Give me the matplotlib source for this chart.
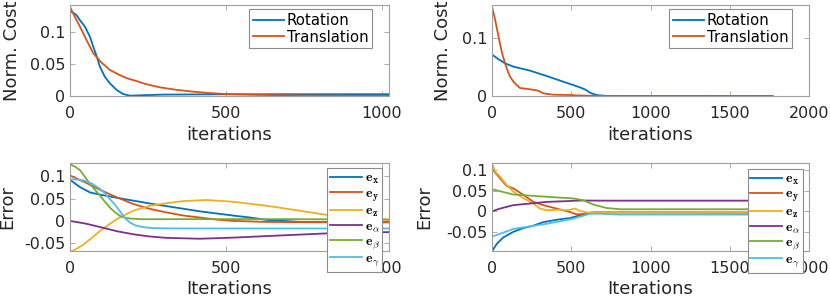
import matplotlib
matplotlib.use('Agg')
import matplotlib.pyplot as plt

plt.rcParams['font.family'] = ['DejaVu Sans']
plt.rcParams['mathtext.fontset'] = 'cm'
plt.rcParams['axes.unicode_minus'] = False

# MATLAB default colours
c_blue = '#0072BD'
c_orange = '#D95319'
c_yellow = '#EDB120'
c_purple = '#7E2F8E'
c_green = '#77AC30'
c_cyan = '#4DBEEE'

# ---- top left: normalised cost, case 1 ----
tl_rot_x = [0, 10, 21, 32, 48, 64, 75, 86, 96, 112, 128, 150, 171, 193, 230, 300, 500, 700, 1024]
tl_rot_y = [0.133, 0.131, 0.127, 0.119, 0.109, 0.093, 0.077, 0.062, 0.046, 0.030, 0.020, 0.0094,
            0.003, 0.0005, 0.0012, 0.0022, 0.0027, 0.0028, 0.0028]
tl_tra_x = [0, 16, 32, 54, 75, 100, 128, 155, 182, 210, 235, 262, 289, 340, 396, 450, 503, 600, 700,
            850, 1024]
tl_tra_y = [0.140, 0.124, 0.109, 0.087, 0.067, 0.053, 0.041, 0.034, 0.028, 0.024, 0.020, 0.0165,
            0.0136, 0.0098, 0.0068, 0.0045, 0.003, 0.0018, 0.001, 0.0005, 0.0003]

# ---- top right: normalised cost, case 2 ----
tr_rot_x = [0, 40, 82, 135, 240, 345, 450, 555, 590, 618, 645, 671, 720, 1000, 1770]
tr_rot_y = [0.072, 0.064, 0.0567, 0.051, 0.044, 0.0347, 0.0248, 0.015, 0.011, 0.0058, 0.003,
            0.0012, 0.0002, 0.0, 0.0]
tr_tra_x = [0, 15, 29, 50, 65, 82, 98, 114, 135, 156, 177, 219, 240, 271, 292, 324, 387, 492, 534,
            597, 700, 1770]
tr_tra_y = [0.155, 0.138, 0.120, 0.091, 0.073, 0.057, 0.044, 0.0335, 0.025, 0.019, 0.0138, 0.0125,
            0.0116, 0.0104, 0.0092, 0.0046, 0.0023, 0.0017, 0.001, 0.0005, 0.0002, 0.0]

# ---- bottom left: errors, case 1 ----
bl_ex_x = [0, 32, 64, 96, 120, 150, 257, 417, 524, 578, 632, 739, 900, 1024]
bl_ex_y = [0.092, 0.076, 0.064, 0.059, 0.056, 0.052, 0.039, 0.0215, 0.012, 0.0076, 0.0023, -0.0023,
           -0.003, -0.003]
bl_ey_x = [0, 50, 96, 150, 203, 257, 310, 365, 417, 470, 524, 632, 800, 1024]
bl_ey_y = [0.102, 0.086, 0.070, 0.053, 0.038, 0.027, 0.019, 0.012, 0.0076, 0.003, 0.0, -0.0023,
           -0.003, -0.003]
bl_ez_x = [0, 20, 43, 70, 96, 123, 150, 177, 203, 230, 257, 310, 364, 439, 524, 632, 739, 824,
           920, 1024]
bl_ez_y = [-0.070, -0.063, -0.053, -0.038, -0.0227, -0.009, 0.0038, 0.014, 0.0227, 0.029, 0.034,
           0.0398, 0.0445, 0.047, 0.043, 0.034, 0.0227, 0.0136, 0.006, 0.003]
bl_ea_x = [0, 50, 96, 150, 203, 257, 310, 417, 524, 632, 824, 1024]
bl_ea_y = [0.0, -0.006, -0.0136, -0.023, -0.030, -0.035, -0.038, -0.040, -0.0375, -0.034, -0.028,
           -0.025]
bl_eb_x = [0, 16, 32, 48, 64, 80, 96, 112, 128, 145, 161, 177, 193, 235, 400, 700, 1024]
bl_eb_y = [0.127, 0.122, 0.114, 0.099, 0.083, 0.070, 0.057, 0.043, 0.030, 0.019, 0.011, 0.007,
           0.0053, 0.0038, 0.004, 0.004, 0.003]
bl_eg_x = [0, 20, 43, 70, 96, 112, 128, 145, 161, 177, 193, 210, 235, 260, 310, 500, 1024]
bl_eg_y = [0.093, 0.093, 0.091, 0.084, 0.072, 0.062, 0.049, 0.036, 0.021, 0.006, -0.004, -0.010,
           -0.014, -0.0158, -0.0167, -0.017, -0.017]

# ---- bottom right: errors, case 2 ----
br_ex_x = [0, 29, 71, 135, 198, 261, 324, 408, 492, 555, 618, 681, 1770]
br_ex_y = [-0.098, -0.080, -0.064, -0.050, -0.041, -0.035, -0.0265, -0.0207, -0.0165, -0.0099,
           -0.0033, -0.002, -0.003]
br_ey_x = [0, 50, 92, 135, 198, 261, 324, 408, 492, 534, 597, 660, 1770]
br_ey_y = [0.104, 0.081, 0.062, 0.056, 0.040, 0.023, 0.015, 0.0066, -0.0017, -0.0075, -0.006,
           -0.003, -0.003]
br_ez_x = [0, 19, 50, 92, 135, 198, 261, 303, 345, 429, 471, 524, 555, 618, 681, 1770]
br_ez_y = [0.118, 0.0975, 0.085, 0.0645, 0.048, 0.032, 0.019, 0.0066, 0.0025, 0.004, 0.0025,
           0.0066, 0.0008, -0.004, -0.002, -0.002]
br_ea_x = [0, 50, 135, 240, 345, 471, 555, 700, 1770]
br_ea_y = [0.0, 0.0066, 0.015, 0.019, 0.023, 0.0248, 0.0264, 0.026, 0.026]
br_eb_x = [0, 135, 345, 513, 576, 639, 723, 808, 1770]
br_eb_y = [0.054, 0.041, 0.0355, 0.0314, 0.027, 0.0166, 0.008, 0.005, 0.005]
br_eg_x = [0, 135, 345, 513, 618, 681, 800, 1770]
br_eg_y = [-0.062, -0.043, -0.0306, -0.018, -0.006, -0.006, -0.008, -0.008]

err_labels = [r'$\mathbf{e}_\mathbf{x}$', r'$\mathbf{e}_\mathbf{y}$', r'$\mathbf{e}_\mathbf{z}$',
              r'$\mathbf{e}_\alpha$', r'$\mathbf{e}_\beta$', r'$\mathbf{e}_\gamma$']
err_colors = [c_blue, c_orange, c_yellow, c_purple, c_green, c_cyan]

W, H = 830, 298
fig = plt.figure(figsize=(W / 100, H / 100), dpi=100)


def make_axes(l, t, r, b):
    return fig.add_axes([l / W, 1 - b / H, (r - l) / W, (b - t) / H])


def style(ax):
    for s in ax.spines.values():
        s.set_color('#a0a0a0')
        s.set_linewidth(0.8)
    ax.tick_params(direction='in', top=True, right=True, length=3.5, width=0.6,
                   color='#a0a0a0', labelsize=11.5, labelcolor='#262626')
    ax.tick_params(axis='x', pad=7)
    ax.tick_params(axis='y', pad=3.5)


lw = 1.3
ax1 = make_axes(70, 5, 389, 96)
ax1.plot(tl_rot_x, tl_rot_y, color=c_blue, lw=lw, label='Rotation')
ax1.plot(tl_tra_x, tl_tra_y, color=c_orange, lw=lw, label='Translation')
ax1.set_xlim(0, 1024)
ax1.set_ylim(0, 0.143)
ax1.set_xticks([0, 500, 1000])
ax1.set_yticks([0, 0.05, 0.1])
ax1.set_yticklabels(['0', '0.05', '0.1'])

ax2 = make_axes(492, 5, 809, 96)
ax2.plot(tr_rot_x, tr_rot_y, color=c_blue, lw=lw, label='Rotation')
ax2.plot(tr_tra_x, tr_tra_y, color=c_orange, lw=lw, label='Translation')
ax2.set_xlim(0, 2000)
ax2.set_ylim(0, 0.158)
ax2.set_xticks([0, 500, 1000, 1500, 2000])
ax2.set_yticks([0, 0.1])
ax2.set_yticklabels(['0', '0.1'])

for ax in (ax1, ax2):
    style(ax)
    ax.set_ylabel('Norm. Cost', fontsize=13, color='#262626')
    ax.set_xlabel('iterations', fontsize=13, color='#262626')
    leg = ax.legend(loc='upper right', bbox_to_anchor=(0.947, 0.956), borderaxespad=0,
                    fancybox=False, framealpha=1, edgecolor='#8c8c8c', fontsize=10.7,
                    handlelength=2.1, handletextpad=0.2, labelspacing=0.12, borderpad=0.25)
    leg.get_frame().set_linewidth(0.8)
ax1.yaxis.set_label_coords(-0.155, 0.5)
ax2.yaxis.set_label_coords(-0.125, 0.5)
ax1.xaxis.set_label_coords(0.5, -0.33)
ax2.xaxis.set_label_coords(0.5, -0.33)

ax3 = make_axes(70, 163, 389, 251)
bl = [(bl_ex_x, bl_ex_y), (bl_ey_x, bl_ey_y), (bl_ez_x, bl_ez_y),
      (bl_ea_x, bl_ea_y), (bl_eb_x, bl_eb_y), (bl_eg_x, bl_eg_y)]
for (x, y), c, lab in zip(bl, err_colors, err_labels):
    ax3.plot(x, y, color=c, lw=lw, label=lab)
ax3.set_xlim(0, 1024)
ax3.set_ylim(-0.0675, 0.13)
ax3.set_xticks([0, 500, 1000])

ax4 = make_axes(492, 163, 809, 251)
br = [(br_ex_x, br_ex_y), (br_ey_x, br_ey_y), (br_ez_x, br_ez_y),
      (br_ea_x, br_ea_y), (br_eb_x, br_eb_y), (br_eg_x, br_eg_y)]
for (x, y), c, lab in zip(br, err_colors, err_labels):
    ax4.plot(x, y, color=c, lw=lw, label=lab)
ax4.set_xlim(0, 2000)
ax4.set_ylim(-0.097, 0.118)
ax4.set_xticks([0, 500, 1000, 1500, 2000])

for ax, ly in ((ax3, 0.943), (ax4, 0.932)):
    style(ax)
    ax.set_yticks([-0.05, 0, 0.05, 0.1])
    ax.set_yticklabels(['-0.05', '0', '0.05', '0.1'])
    ax.set_ylabel('Error', fontsize=13, color='#262626')
    ax.set_xlabel('Iterations', fontsize=13, color='#262626')
    leg = ax.legend(loc='upper left', bbox_to_anchor=(0.806, ly), borderaxespad=0,
                    fancybox=False, framealpha=1, edgecolor='#8c8c8c', fontsize=10,
                    handlelength=2.3, handletextpad=0.2, labelspacing=0.0, borderpad=0.2)
    leg.get_frame().set_linewidth(0.8)
    leg.set_zorder(10)
ax3.yaxis.set_label_coords(-0.17, 0.5)
ax4.yaxis.set_label_coords(-0.185, 0.5)
ax3.xaxis.set_label_coords(0.5, -0.33)
ax4.xaxis.set_label_coords(0.5, -0.33)

fig.savefig('out.png', dpi=100)
